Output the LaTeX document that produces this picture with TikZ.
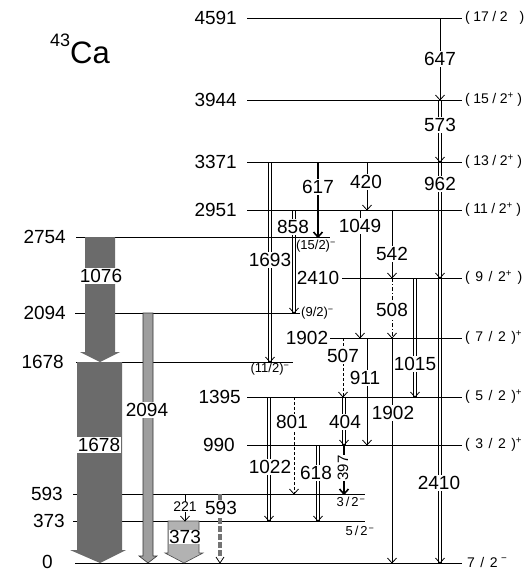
\documentclass[tikz,border=0pt]{standalone}
\usepackage{fontspec}
\setmainfont{Liberation Sans}
\usetikzlibrary{arrows.meta}
\newcommand\jk{\kern3.5pt}
\newcommand\jK{\kern5.5pt}
\newcommand\trTip[2]{\draw[trl] (#1-4.5,#2-5) -- (#1,#2) -- (#1+4.5,#2-5);}
\newcommand\trS[3]{\draw[trl] (#1,#2) -- (#1,#3); \trTip{#1}{#3}}
\newcommand\trD[3]{\draw[trl] (#1-1.8,#2) -- (#1-1.8,#3); \draw[trl] (#1+1.8,#2) -- (#1+1.8,#3); \trTip{#1}{#3}}
\begin{document}
\begin{tikzpicture}[x=1pt,y=-1pt,
  lvl/.style={line width=0.8pt},
  trl/.style={line width=0.8pt},
  thk/.style={line width=1.6pt},
  lab/.style={font=\fontsize{19}{19}\selectfont, inner sep=1pt, fill=white},
  elab/.style={font=\fontsize{19}{19}\selectfont, inner sep=1pt},
  jlab/.style={font=\fontsize{14}{14}\selectfont, anchor=west, inner sep=0pt},
  slab/.style={font=\fontsize{13}{13}\selectfont, inner sep=0pt},
  sha/.style={fill=black!58},
  shb/.style={fill=black!38, draw=black!80, line width=0.6pt},
  shc/.style={fill=black!30, draw=black!70, line width=0.6pt},
]
\useasboundingbox (0,0) rectangle (531,571);

% levels
\draw[lvl] (247,18) -- (462,18);
\draw[lvl] (247,100) -- (462,100);
\draw[lvl] (247,162) -- (462,162);
\draw[lvl] (247,210) -- (462,210);
\draw[lvl] (76,237) -- (330,237);
\draw[lvl] (342,278) -- (462,278);
\draw[lvl] (75,313) -- (300,313);
\draw[lvl] (330,338) -- (462,338);
\draw[lvl] (76,362) -- (293,362);
\draw[lvl] (247,397) -- (462,397);
\draw[lvl] (247,445) -- (462,445);
\draw[lvl] (73,494) -- (365,494);
\draw[lvl] (73,521) -- (365,521);
\draw[lvl] (75,563) -- (462,563);

% shaded arrows
\fill[sha] (85,237) -- (115,237) -- (115,352) -- (120,352) -- (100,362) -- (80,352) -- (85,352) -- cycle;
\fill[sha] (77,362) -- (122,362) -- (122,550) -- (126,550) -- (100,563) -- (70,550) -- (77,550) -- cycle;
\filldraw[shb] (143,313) -- (153,313) -- (153,556) -- (157,556) -- (148,563) -- (139,556) -- (143,556) -- cycle;
\filldraw[shc] (168,521) -- (199,521) -- (199,553) -- (203,553) -- (184,563) -- (165,553) -- (168,553) -- cycle;
\draw[line width=3.5pt, black!55, dash pattern=on 6pt off 2pt] (220,494) -- (220,558);
\draw[trl] (216,557) -- (220,563) -- (224,557);

% transitions
\trS{440}{18}{100}
\trD{440}{100}{162}
\trD{440}{162}{278}
\trD{440}{278}{563}
\draw[thk] (318,162) -- (318,237); \draw[thk] (313.5,232) -- (318,237) -- (322.5,232);
\trS{367}{162}{210}
\trD{270}{162}{362}
\trD{294}{210}{313}
\trS{360}{210}{338}
\trS{392}{210}{278}
\draw[trl, dash pattern=on 4pt off 2pt on 1pt off 2pt] (392,278) -- (392,338); \trTip{392}{338}
\trD{415}{278}{397}
\trS{392}{338}{563}
\draw[trl, dash pattern=on 3pt off 2pt] (343,338) -- (343,397); \trTip{343}{397}
\trS{367}{338}{445}
\trD{344}{397}{445}
\draw[thk] (344,445) -- (344,494); \draw[thk] (339.5,489) -- (344,494) -- (348.5,489);
\draw[trl, dash pattern=on 3pt off 2pt] (294,397) -- (294,494); \trTip{294}{494}
\trD{269}{397}{521}
\trD{318}{445}{521}
\trS{185}{494}{521}

% level energy labels
\node[elab, anchor=east] (e4591) at (238,18) {4591};
\node[elab, anchor=east] (e3944) at (238,100) {3944};
\node[elab, anchor=east] (e3371) at (238,162) {3371};
\node[elab, anchor=east] (e2951) at (238,210) {2951};
\node[elab, anchor=east] (e2754) at (67,237) {2754};
\node[elab] (e2410) at (318,278) {2410};
\node[elab, anchor=east] (e2094) at (67,313) {2094};
\node[elab] (e1902) at (307,338) {1902};
\node[elab, anchor=east] (e1678) at (65,362) {1678};
\node[elab, anchor=east] (e1395) at (242,397) {1395};
\node[elab, anchor=east] (e990) at (236,445) {990};
\node[elab, anchor=east] (e593) at (64,494) {593};
\node[elab, anchor=east] (e373) at (66,521) {373};
\node[elab, anchor=east, inner sep=0pt] (e0) at (53,561.5) {0};

% spin labels
\node[jlab] (j4591) at (465,18) {(\jk17\jk/\jk2\kern12pt)};
\node[jlab] (j3944) at (465,100) {(\jk15\jk/\jk2\textsuperscript{+}\jk)};
\node[jlab] (j3371) at (465,162) {(\jk13\jk/\jk2\textsuperscript{+}\jk)};
\node[jlab] (j2951) at (465,210) {(\jk11\jk/\jk2\textsuperscript{+}\jk)};
\node[jlab] (j2410) at (465,278) {(\jK9\jK/\jK2\textsuperscript{+}\jK)};
\node[jlab] (j1902) at (465,338) {(\jK7\jK/\jK2\jK)\textsuperscript{+}};
\node[jlab] (j1395) at (465,397) {(\jK5\jK/\jK2\jK)\textsuperscript{+}};
\node[jlab] (j990) at (465,445) {(\jK3\jK/\jK2\jK)\textsuperscript{+}};
\node[jlab] (j0) at (467,562) {7\jK/\jK2\jk\textsuperscript{−}};
\node[slab] (j2754) at (316,246) {(15/2)\textsuperscript{−}};
\node[slab, anchor=west] (j2094) at (301,313) {(9/2)\textsuperscript{−}};
\node[slab] (j1678) at (270,369) {(11/2)\textsuperscript{−}};
\node[slab] (j593) at (351,502) {3\kern2pt/\kern2pt2\kern1pt\textsuperscript{−}};
\node[slab] (j373) at (360,531) {5\kern2pt/\kern2pt2\kern1pt\textsuperscript{−}};

% transition labels
\node[lab] (t647) at (440,59) {647};
\node[lab] (t573) at (440,125) {573};
\node[lab] (t962) at (440,184) {962};
\node[lab] (t2410) at (439,483) {2410};
\node[lab] (t617) at (318,187) {617};
\node[lab] (t420) at (366,182) {420};
\node[lab] (t1693) at (270,260) {1693};
\node[lab] (t858) at (293,227) {858};
\node[lab] (t1049) at (360,226) {1049};
\node[lab] (t542) at (392,254) {542};
\node[lab] (t508) at (392,310) {508};
\node[lab] (t1015) at (415,364) {1015};
\node[lab] (t1902) at (393,413) {1902};
\node[lab] (t507) at (343,356) {507};
\node[lab] (t911) at (365,378) {911};
\node[lab] (t404) at (345,422) {404};
\node[lab, font=\fontsize{15}{15}\selectfont, rotate=90, inner sep=0.5pt] (t397) at (343,468) {397};
\node[lab] (t801) at (292,422) {801};
\node[lab] (t1022) at (270,467) {1022};
\node[lab] (t618) at (316,473) {618};
\node[lab, font=\fontsize{14}{14}\selectfont, inner sep=0.5pt] (t221) at (185,507) {221};
\node[lab] (t593) at (221,508) {593};
\node[lab] (t1076) at (101,276) {1076};
\node[lab] (t1678) at (99,445) {1678};
\node[lab] (t2094) at (147,410) {2094};
\node[lab, inner sep=0.5pt] (t373) at (185,537) {373};

% title
\node[anchor=base west, inner sep=0] (title) at (50,63) {\fontsize{18}{18}\selectfont\raisebox{17pt}{43}\fontsize{31}{31}\selectfont Ca};
\end{tikzpicture}
\end{document}
